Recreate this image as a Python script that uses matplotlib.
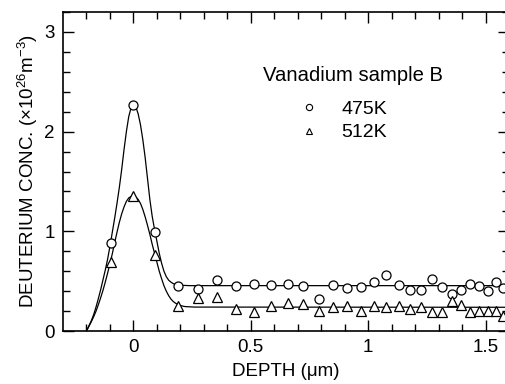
import numpy as np
import matplotlib as mpl
import matplotlib.pyplot as plt
from matplotlib.lines import Line2D

# global plot style
mpl.rcParams['font.family'] = ['Liberation Sans', 'DejaVu Sans']
mpl.rcParams['mathtext.fontset'] = 'custom'
mpl.rcParams['mathtext.rm'] = 'Liberation Sans'
mpl.rcParams['mathtext.it'] = 'Liberation Sans:italic'
mpl.rcParams['font.size'] = 13.5

# measured depth points (um)
depth = [-0.095, 0.0, 0.093, 0.188, 0.273, 0.355, 0.436, 0.513, 0.585, 0.658,
         0.722, 0.789, 0.852, 0.910, 0.970, 1.023, 1.076, 1.132, 1.179, 1.226,
         1.273, 1.314, 1.357, 1.397, 1.435, 1.472, 1.510, 1.546, 1.575]

# 475K data (x1e26 m^-3)
conc_475 = [0.88, 2.27, 0.99, 0.455, 0.42, 0.51, 0.455, 0.47, 0.46, 0.475,
            0.455, 0.32, 0.46, 0.43, 0.445, 0.495, 0.565, 0.46, 0.41, 0.41,
            0.52, 0.445, 0.375, 0.41, 0.47, 0.45, 0.405, 0.49, 0.43]

# 512K data
conc_512 = [0.69, 1.35, 0.76, 0.25, 0.33, 0.345, 0.22, 0.19, 0.25, 0.28,
            0.27, 0.20, 0.245, 0.255, 0.20, 0.255, 0.245, 0.25, 0.22, 0.24,
            0.195, 0.195, 0.30, 0.265, 0.19, 0.20, 0.205, 0.205, 0.15]

# fitted curves
fit_475_x = [-0.2, -0.19, -0.18, -0.17, -0.16, -0.15, -0.14, -0.13, -0.12, -0.11,
             -0.10, -0.09, -0.08, -0.07, -0.06, -0.05, -0.04, -0.03, -0.02, -0.01,
             0.0, 0.01, 0.02, 0.03, 0.04, 0.05, 0.06, 0.07, 0.08, 0.09,
             0.10, 0.11, 0.12, 0.13, 0.14, 0.15, 0.16, 0.17, 0.18, 0.20,
             0.24, 1.6]
fit_475_y = [0.0, 0.05, 0.10, 0.16, 0.235, 0.32, 0.41, 0.51, 0.61, 0.72,
             0.85, 0.99, 1.13, 1.28, 1.44, 1.62, 1.82, 2.00, 2.15, 2.24,
             2.27, 2.25, 2.18, 2.07, 1.92, 1.74, 1.53, 1.32, 1.15, 1.02,
             0.90, 0.78, 0.68, 0.60, 0.545, 0.51, 0.49, 0.475, 0.466, 0.459,
             0.455, 0.455]

fit_512_x = [-0.2, -0.19, -0.18, -0.17, -0.16, -0.15, -0.14, -0.13, -0.12, -0.11,
             -0.10, -0.09, -0.08, -0.07, -0.06, -0.05, -0.04, -0.03, -0.02, -0.01,
             0.0, 0.01, 0.02, 0.03, 0.04, 0.05, 0.06, 0.07, 0.08, 0.09,
             0.10, 0.11, 0.12, 0.13, 0.14, 0.15, 0.16, 0.17, 0.18, 0.19,
             0.20, 0.22, 0.26, 1.6]
fit_512_y = [0.0, 0.045, 0.09, 0.14, 0.195, 0.26, 0.33, 0.405, 0.49, 0.58,
             0.675, 0.775, 0.885, 0.99, 1.09, 1.175, 1.245, 1.30, 1.335, 1.35,
             1.355, 1.345, 1.32, 1.28, 1.22, 1.145, 1.06, 0.97, 0.87, 0.78,
             0.69, 0.60, 0.525, 0.455, 0.40, 0.355, 0.32, 0.295, 0.278, 0.265,
             0.255, 0.245, 0.24, 0.238]

fig = plt.figure(figsize=(5.06, 3.84), dpi=100)
ax = fig.add_axes([63 / 506, 53 / 384, 446 / 506, 319 / 384])

ax.plot(fit_475_x, fit_475_y, color='black', lw=0.9)
ax.plot(fit_512_x, fit_512_y, color='black', lw=0.9)
ax.plot(depth, conc_475, ls='none', marker='o', ms=6.5, mfc='white',
        mec='black', mew=0.9)
ax.plot(depth, conc_512, ls='none', marker='^', ms=6.5, mfc='white',
        mec='black', mew=0.9)

ax.set_xlim(-0.3, 1.6)
ax.set_ylim(0, 3.2)
ax.set_xticks([0, 0.5, 1, 1.5])
ax.set_xticklabels(['0', '0.5', '1', '1.5'])
ax.set_xticks(np.arange(-0.2, 1.61, 0.1), minor=True)
ax.set_yticks([0, 1, 2, 3])
ax.set_yticks(np.arange(0, 3.21, 0.2), minor=True)
ax.tick_params(which='both', direction='in', top=True, right=True, width=1,
               color='black')
ax.tick_params(which='major', length=8, pad=6)
ax.tick_params(which='minor', length=5)
for sp in ax.spines.values():
    sp.set_linewidth(1.2)

ax.set_xlabel('DEPTH (\u03bcm)', labelpad=5)
ax.set_ylabel('DEUTERIUM CONC. (\u00d710$^{26}$m$^{-3}$)', labelpad=3)

# legend: title as text, entries as legend
ax.text(0.448, 0.8025, 'Vanadium sample B', transform=ax.transAxes,
        fontsize=14.6, ha='left', va='center')
handles = [Line2D([], [], ls='none', marker='o', ms=4.5, mfc='white', mec='black', mew=0.8),
           Line2D([], [], ls='none', marker='^', ms=4.5, mfc='white', mec='black', mew=0.8)]
leg = ax.legend(handles, ['475K', '512K'], frameon=False, fontsize=14,
                handlelength=1.0, handletextpad=1.2, labelspacing=0.28,
                borderpad=0, borderaxespad=0,
                loc='upper left', bbox_to_anchor=(0.529, 0.722))

fig.savefig('out.png', dpi=100)
